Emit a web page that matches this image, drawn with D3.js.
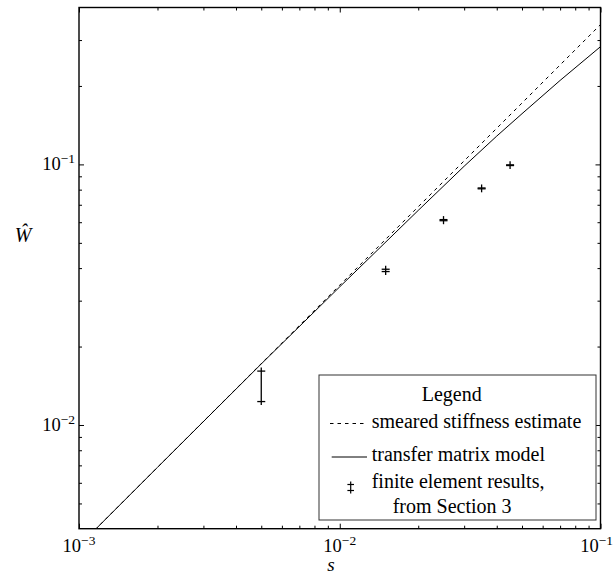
<!DOCTYPE html>
<html>
<head>
<meta charset="utf-8">
<script src="https://cdn.jsdelivr.net/npm/d3@7"></script>
<style>
  body { margin: 0; background: #fff; }
  svg { display: block; font-family: "Liberation Serif", "Times New Roman", serif; }
</style>
</head>
<body>
<script>
// Chart data
// smeared stiffness estimate (dashed)
const smearedS = [0.001, 0.01, 0.1];
const smearedW = [0.00344, 0.0344, 0.344];

// transfer matrix model (solid)
const transferS = [0.001, 0.002, 0.005, 0.01, 0.02, 0.03, 0.04, 0.05, 0.07, 0.1];
const transferW = [0.00344, 0.00688, 0.01715, 0.0339, 0.0666, 0.0984, 0.1284, 0.1565, 0.210, 0.283];

// finite element results, from Section 3 (error bars)
const feS = [0.005, 0.015, 0.025, 0.035, 0.045];
const feLow = [0.0123, 0.0388, 0.0608, 0.0806, 0.0990];
const feHigh = [0.0161, 0.0396, 0.0614, 0.0812, 0.0996];

// axis ticks
const xMajor = [0.001, 0.01, 0.1];
const xMajorExp = ["−3", "−2", "−1"];
const yMajor = [0.01, 0.1];
const yMajorExp = ["−2", "−1"];
const xMinor = [0.002, 0.003, 0.004, 0.005, 0.006, 0.007, 0.008, 0.009,
                0.02, 0.03, 0.04, 0.05, 0.06, 0.07, 0.08, 0.09];
const yMinor = [0.005, 0.006, 0.007, 0.008, 0.009,
                0.02, 0.03, 0.04, 0.05, 0.06, 0.07, 0.08, 0.09, 0.2, 0.3];

const legendLabels = ["smeared stiffness estimate", "transfer matrix model",
                      "finite element results,", "from Section 3"];

// Layout
const width = 614;
const height = 574;
const plot = { left: 79, right: 600.5, top: 7.5, bottom: 528.7 };

const x = d3.scaleLog().domain([0.001, 0.1]).range([plot.left, plot.right]);
const y = d3.scaleLog().domain([0.004, 0.4]).range([plot.bottom, plot.top]);

const svg = d3.select("body").append("svg")
    .attr("width", width)
    .attr("height", height);

svg.append("defs").append("clipPath")
    .attr("id", "clip")
    .append("rect")
    .attr("x", plot.left)
    .attr("y", plot.top)
    .attr("width", plot.right - plot.left)
    .attr("height", plot.bottom - plot.top);

// Lines
const line = d3.line().x(d => x(d[0])).y(d => y(d[1]));

const lines = svg.append("g").attr("clip-path", "url(#clip)");

lines.append("path")
    .datum(smearedS.map((s, i) => [s, smearedW[i]]))
    .attr("d", line)
    .attr("fill", "none")
    .attr("stroke", "#000")
    .attr("stroke-width", 1)
    .attr("stroke-dasharray", "3.5,4");

lines.append("path")
    .datum(transferS.map((s, i) => [s, transferW[i]]))
    .attr("d", line)
    .attr("fill", "none")
    .attr("stroke", "#000")
    .attr("stroke-width", 1);

// FE error bars
const fe = feS.map((s, i) => ({ s, lo: feLow[i], hi: feHigh[i] }));
const bars = svg.append("g")
    .attr("stroke", "#000")
    .attr("stroke-width", 1.3)
    .selectAll("g")
    .data(fe)
    .join("g");

bars.append("line")
    .attr("x1", d => x(d.s)).attr("x2", d => x(d.s))
    .attr("y1", d => y(d.hi) - 3.5).attr("y2", d => y(d.lo) + 3.5);
bars.append("line")
    .attr("x1", d => x(d.s) - 4).attr("x2", d => x(d.s) + 4)
    .attr("y1", d => y(d.hi)).attr("y2", d => y(d.hi));
bars.append("line")
    .attr("x1", d => x(d.s) - 4).attr("x2", d => x(d.s) + 4)
    .attr("y1", d => y(d.lo)).attr("y2", d => y(d.lo));

// Inward ticks on all four sides
function ticks(axisFn, scale, values, size, transform) {
    svg.append("g")
        .attr("transform", transform)
        .call(axisFn(scale).tickValues(values).tickSize(-size).tickSizeOuter(0).tickFormat(""))
        .call(g => g.select(".domain").remove())
        .call(g => g.selectAll("line").attr("stroke-width", 1));
}

ticks(d3.axisBottom, x, xMajor, 5, `translate(0,${plot.bottom})`);
ticks(d3.axisBottom, x, xMinor, 3, `translate(0,${plot.bottom})`);
ticks(d3.axisTop, x, xMajor, 5, `translate(0,${plot.top})`);
ticks(d3.axisTop, x, xMinor, 3, `translate(0,${plot.top})`);
ticks(d3.axisLeft, y, yMajor, 5, `translate(${plot.left},0)`);
ticks(d3.axisLeft, y, yMinor, 3, `translate(${plot.left},0)`);
ticks(d3.axisRight, y, yMajor, 5, `translate(${plot.right},0)`);
ticks(d3.axisRight, y, yMinor, 3, `translate(${plot.right},0)`);

// Box
svg.append("rect")
    .attr("x", plot.left)
    .attr("y", plot.top)
    .attr("width", plot.right - plot.left)
    .attr("height", plot.bottom - plot.top)
    .attr("fill", "none")
    .attr("stroke", "#000")
    .attr("stroke-width", 1.4);

// Tick labels with superscript exponents
function powerLabel(g, exp) {
    g.append("tspan").text("10");
    g.append("tspan")
        .attr("font-size", 13.5)
        .attr("dy", -7)
        .text(exp);
}

xMajor.forEach((v, i) => {
    const last = i === xMajor.length - 1;
    svg.append("text")
        .attr("x", last ? width - 1 : x(v))
        .attr("y", 551.7)
        .attr("font-size", 18.5)
        .attr("text-anchor", last ? "end" : "middle")
        .call(powerLabel, xMajorExp[i]);
});

yMajor.forEach((v, i) => {
    svg.append("text")
        .attr("x", plot.left - 4)
        .attr("y", y(v) + 6)
        .attr("font-size", 18.5)
        .attr("text-anchor", "end")
        .call(powerLabel, yMajorExp[i]);
});

// Axis labels
svg.append("text")
    .attr("x", 331)
    .attr("y", 570.7)
    .attr("font-size", 19)
    .attr("font-style", "italic")
    .attr("text-anchor", "middle")
    .text("s");

svg.append("text")
    .attr("x", 23)
    .attr("y", 242)
    .attr("font-size", 20)
    .attr("font-style", "italic")
    .attr("text-anchor", "middle")
    .text("Ŵ");

// Legend
const legend = svg.append("g");
legend.append("rect")
    .attr("x", 319).attr("y", 375)
    .attr("width", 277).attr("height", 145)
    .attr("fill", "#fff")
    .attr("stroke", "#333")
    .attr("stroke-width", 1);

legend.append("text")
    .attr("x", 451.7).attr("y", 401)
    .attr("font-size", 20)
    .attr("text-anchor", "middle")
    .text("Legend");

legend.append("line")
    .attr("x1", 330).attr("x2", 367)
    .attr("y1", 423.5).attr("y2", 423.5)
    .attr("stroke", "#000")
    .attr("stroke-width", 1)
    .attr("stroke-dasharray", "3.5,4");

legend.append("line")
    .attr("x1", 331.7).attr("x2", 367)
    .attr("y1", 457).attr("y2", 457)
    .attr("stroke", "#000")
    .attr("stroke-width", 1);

const sym = legend.append("g").attr("stroke", "#000").attr("stroke-width", 1.2);
sym.append("line").attr("x1", 350.7).attr("x2", 350.7).attr("y1", 481.5).attr("y2", 493.5);
sym.append("line").attr("x1", 347.4).attr("x2", 354).attr("y1", 484.5).attr("y2", 484.5);
sym.append("line").attr("x1", 347.4).attr("x2", 354).attr("y1", 490.5).attr("y2", 490.5);

const legendRows = [
    { text: legendLabels[0], x: 371.7, y: 427.7 },
    { text: legendLabels[1], x: 371.7, y: 460.7 },
    { text: legendLabels[2], x: 371.7, y: 488.3 },
    { text: legendLabels[3], x: 392.7, y: 512.7 }
];
legend.selectAll("text.row")
    .data(legendRows)
    .join("text")
    .attr("class", "row")
    .attr("x", d => d.x)
    .attr("y", d => d.y)
    .attr("font-size", 20)
    .text(d => d.text);
</script>
</body>
</html>
